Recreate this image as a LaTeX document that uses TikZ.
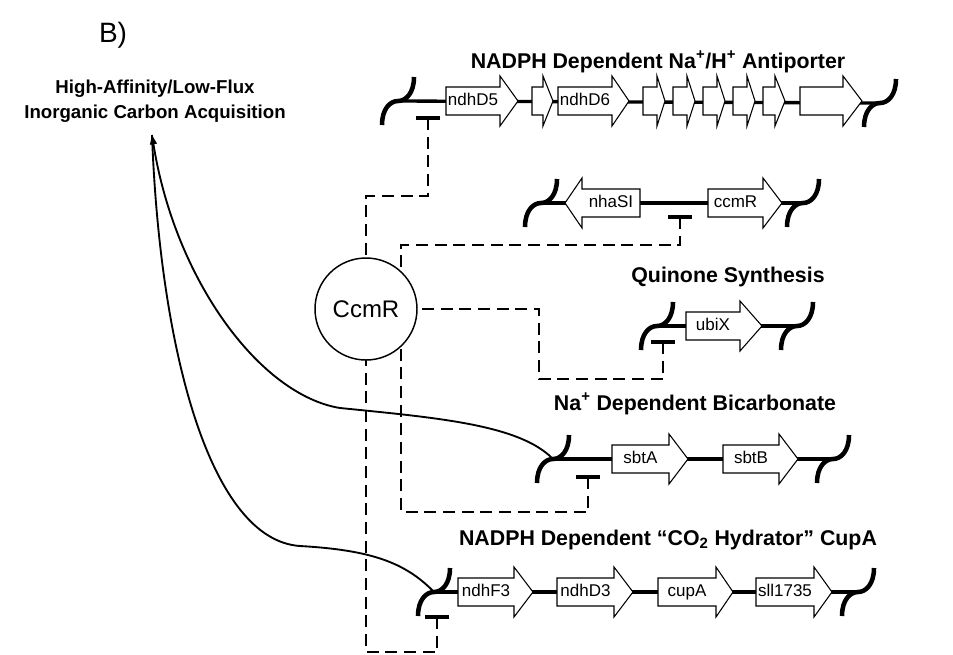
\documentclass[tikz,border=0pt]{standalone}
\usepackage{fontspec}
\setmainfont{Liberation Sans}
\usepackage{tikz}
\usetikzlibrary{arrows.meta, calc}
% gene arrow: name, tail x, head x, tip x, row y, label
\newcommand{\gene}[6]{%
  \draw[genebox] (#2,#5-14) -- (#3,#5-14) -- (#3,#5-25) -- (#4,#5)
    -- (#3,#5+25) -- (#3,#5+14) -- (#2,#5+14) -- cycle;
  \node[genelabel] (#1) at ({(#2+#3)/2},#5) {#6};
}
% chromosome break at a named coordinate
\newcommand{\chrbreak}[1]{%
  \draw[breakline] ($(#1)+(-16,24)$) .. controls +(0,-16) and +(-8,0) .. (#1)
    .. controls +(8,0) and +(0,16) .. ($(#1)+(16,-24)$);
}
% repression bar at a named coordinate
\newcommand{\tbar}[1]{%
  \draw[tbarline] ($(#1)+(-12,0)$) -- ($(#1)+(12,0)$);
}

\begin{document}
\begin{tikzpicture}[
    x=0.75pt, y=-0.75pt,
    >={Triangle[length=7pt,width=5pt]},
    genebox/.style={draw=black, line width=0.8pt, fill=white},
    genelabel/.style={font=\fontsize{12.75}{15}\selectfont, inner sep=0pt,
                      text height=9pt, text depth=2.5pt},
    backbone/.style={line width=2.5pt},
    breakline/.style={line width=3.4pt},
    repress/.style={line width=2.2pt, dash pattern=on 9pt off 5pt},
    tbarline/.style={line width=2.8pt},
    regulon/.style={line width=1.4pt},
    optitle/.style={font=\fontsize{16}{19}\selectfont\bfseries, inner sep=0pt},
    regulator/.style={circle, draw=black, line width=1.1pt, fill=white,
                      minimum size=76.5pt, inner sep=0pt,
                      font=\fontsize{18}{21}\selectfont}
  ]
  \useasboundingbox (0,0) rectangle (953,654);

  % ===== PANEL LABEL AND PATHWAY =====
  \node[font=\fontsize{21}{24}\selectfont] (panel) at (113,35) {B)};
  \node[font=\fontsize{14}{18.5}\selectfont\bfseries, align=center] (hiflux) at (155,101)
    {High-Affinity/Low-Flux\\Inorganic Carbon Acquisition};
  \coordinate (acq) at (152,135);

  % ===== OPERON ENDS AND BINDING SITES =====
  \coordinate (antiL) at (398,101); \coordinate (antiR) at (880,103);
  \coordinate (nhaL)  at (541,203); \coordinate (nhaR)  at (803,203);
  \coordinate (ubiL)  at (657,326); \coordinate (ubiR)  at (797,326);
  \coordinate (sbtL)  at (553,459); \coordinate (sbtR)  at (833,459);
  \coordinate (cupL)  at (434,592); \coordinate (cupR)  at (858,592);

  \coordinate (tAnti) at (428,118);
  \coordinate (tNha)  at (680,217);
  \coordinate (tUbi)  at (663,342);
  \coordinate (tSbt)  at (588,477);
  \coordinate (tCup)  at (437,617);

  \coordinate (ccmrc) at (366,309);
  \coordinate (k1) at (366,196);
  \coordinate (k2) at (401,245);
  \coordinate (k3) at (539,379);
  \coordinate (k4) at (401,512);
  \coordinate (k5) at (366,652);

  % ===== REGULON LINKS =====
  \draw[regulon, <-] (acq) .. controls (175,280) and (260,395) .. (340,408)
    .. controls (440,418) and (520,425) .. (sbtL);
  \draw[regulon] (acq) .. controls (160,350) and (210,540) .. (300,546)
    .. controls (370,550) and (405,562) .. (cupL);

  % ===== CCMR REPRESSION =====
  \draw[repress] (tAnti) |- (k1) -- (ccmrc);
  \draw[repress] (tNha) |- (k2) -- (k2 |- ccmrc);
  \draw[repress] (tUbi) |- (k3) |- (ccmrc);
  \draw[repress] (tSbt) |- (k4) -- (k4 |- ccmrc);
  \draw[repress] (tCup) |- (k5) -- (ccmrc);
  \node[regulator] (regCcmR) at (ccmrc) {CcmR};

  % ===== NA+/H+ ANTIPORTER =====
  \node[optitle] (antiT) at (658,62) {NADPH Dependent Na\textsuperscript{+}/H\textsuperscript{+} Antiporter};
  \draw[backbone] (antiL) -- (antiR);
  \chrbreak{antiL} \chrbreak{antiR}
  \gene{ndhD5}{446}{500}{518}{101}{ndhD5}
  \gene{antiB}{532}{543}{553}{101}{}
  \gene{ndhD6}{558}{612}{629}{101}{ndhD6}
  \gene{antiD}{643}{657}{665}{101}{}
  \gene{antiE}{673}{687}{695}{101}{}
  \gene{antiF}{703}{717}{725}{101}{}
  \gene{antiG}{733}{747}{755}{101}{}
  \gene{antiH}{763}{775}{785}{101}{}
  \gene{antiI}{800}{843}{862}{101}{}
  \tbar{tAnti}

  % ===== NHAS / CCMR =====
  \draw[backbone] (nhaL) -- (nhaR);
  \chrbreak{nhaL} \chrbreak{nhaR}
  \gene{nhaS}{640}{582}{565}{203}{nhaSI}
  \gene{ccmRgene}{708}{763}{782}{203}{ccmR}
  \tbar{tNha}

  % ===== QUINONE SYNTHESIS =====
  \node[optitle] (ubiT) at (728,277) {Quinone Synthesis};
  \draw[backbone] (ubiL) -- (ubiR);
  \chrbreak{ubiL} \chrbreak{ubiR}
  \gene{ubiX}{686}{740}{762}{326}{ubiX}
  \tbar{tUbi}

  % ===== NA+ BICARBONATE =====
  \node[optitle] (sbtT) at (695,404) {Na\textsuperscript{+} Dependent Bicarbonate};
  \draw[backbone] (sbtL) -- (sbtR);
  \chrbreak{sbtL} \chrbreak{sbtR}
  \gene{sbtA}{612}{669}{688}{459}{sbtA}
  \gene{sbtB}{723}{779}{798}{459}{sbtB}
  \tbar{tSbt}

  % ===== CO2 HYDRATOR =====
  \node[optitle] (cupT) at (668,540) {NADPH Dependent “CO\textsubscript{2} Hydrator” CupA};
  \draw[backbone] (cupL) -- (cupR);
  \chrbreak{cupL} \chrbreak{cupR}
  \gene{ndhF3}{458}{514}{533}{592}{ndhF3}
  \gene{ndhD3}{557}{614}{633}{592}{ndhD3}
  \gene{cupA}{658}{716}{733}{592}{cupA}
  \gene{sll1735}{756}{814}{832}{592}{sll1735}
  \tbar{tCup}

\end{tikzpicture}
\end{document}
